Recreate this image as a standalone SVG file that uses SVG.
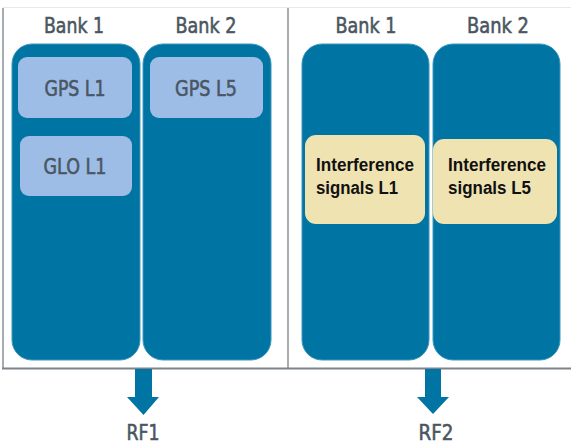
<svg xmlns="http://www.w3.org/2000/svg" width="571" height="445" viewBox="0 0 571 445">
<style>
.bank{fill:#0075A3;stroke:#3D97BC;stroke-width:1}
.sig{fill:#9DBDE7}
.intf{fill:#EFE3B1}
.lbl{font-family:"DejaVu Sans",sans-serif;font-size:20.5px;fill:#4A5662;stroke:#4A5662;stroke-width:0.6;text-anchor:middle}
.itx{font-family:"Liberation Sans",Arial,sans-serif;font-weight:bold;font-size:18px;fill:#111}
.arrow{fill:#0075A3}
</style>
<rect x="0" y="0" width="571" height="445" fill="#fff"/>
<g id="frame">
<line x1="3" y1="7.5" x2="571" y2="7.5" stroke="#E6E8EA" stroke-width="1"/>
<line x1="3" y1="8" x2="3" y2="368" stroke="#8A9096" stroke-width="1.5"/>
<line x1="288" y1="8" x2="288" y2="368" stroke="#8A9096" stroke-width="1.5"/>
<line x1="2" y1="368.5" x2="571" y2="368.5" stroke="#7D8389" stroke-width="2"/>
</g>
<g id="left-bank1">
<text class="lbl" x="74" y="33" textLength="60" lengthAdjust="spacingAndGlyphs">Bank 1</text>
<rect class="bank" x="12" y="44" width="128" height="316" rx="20"/>
</g>
<g id="left-bank2">
<text class="lbl" x="206" y="33" textLength="61" lengthAdjust="spacingAndGlyphs">Bank 2</text>
<rect class="bank" x="143" y="44" width="128" height="316" rx="20"/>
</g>
<g id="gps-l1">
<rect class="sig" x="18" y="57" width="114" height="61" rx="9"/>
<text class="lbl" x="75" y="96" textLength="61" lengthAdjust="spacingAndGlyphs">GPS L1</text>
</g>
<g id="glo-l1">
<rect class="sig" x="20" y="136" width="112" height="60" rx="9"/>
<text class="lbl" x="75" y="174" textLength="63" lengthAdjust="spacingAndGlyphs">GLO L1</text>
</g>
<g id="gps-l5">
<rect class="sig" x="150" y="57" width="113" height="61" rx="9"/>
<text class="lbl" x="206" y="96" textLength="62" lengthAdjust="spacingAndGlyphs">GPS L5</text>
</g>
<g id="right-bank1">
<text class="lbl" x="366" y="33" textLength="61" lengthAdjust="spacingAndGlyphs">Bank 1</text>
<rect class="bank" x="302" y="44" width="127" height="316" rx="20"/>
</g>
<g id="right-bank2">
<text class="lbl" x="498" y="33" textLength="62" lengthAdjust="spacingAndGlyphs">Bank 2</text>
<rect class="bank" x="433" y="44" width="127" height="316" rx="20"/>
</g>
<g id="intf-l1">
<rect class="intf" x="305" y="135" width="120" height="89" rx="11"/>
<text class="itx" x="316" y="171" textLength="98" lengthAdjust="spacingAndGlyphs">Interference</text>
<text class="itx" x="316" y="194" textLength="82" lengthAdjust="spacingAndGlyphs">signals L1</text>
</g>
<g id="intf-l5">
<rect class="intf" x="433" y="139" width="124" height="85" rx="11"/>
<text class="itx" x="448" y="171" textLength="98" lengthAdjust="spacingAndGlyphs">Interference</text>
<text class="itx" x="448" y="194" textLength="83" lengthAdjust="spacingAndGlyphs">signals L5</text>
</g>
<g id="connectors">
<polygon class="arrow" points="135,369 152,369 152,397 159,397 143.5,415 127,397 135,397"/>
<polygon class="arrow" points="425,369 441,369 441,397 449,397 433,414 417,397 425,397"/>
</g>
<g id="rf1"><text class="lbl" x="143" y="440" textLength="33" lengthAdjust="spacingAndGlyphs">RF1</text></g>
<g id="rf2"><text class="lbl" x="436" y="440" textLength="35" lengthAdjust="spacingAndGlyphs">RF2</text></g>
</svg>
